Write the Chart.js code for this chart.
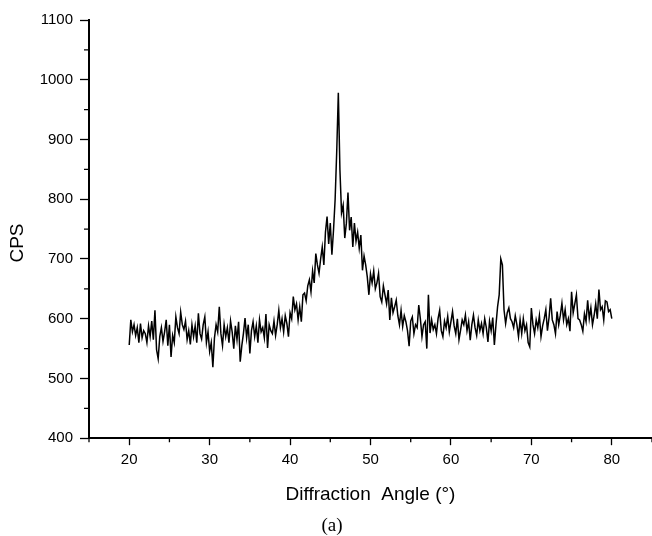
<!DOCTYPE html>
<html>
<head>
<meta charset="utf-8">
<script src="https://cdn.jsdelivr.net/npm/chart.js@4.4.1/dist/chart.umd.min.js"></script>
<style>
  html, body { margin: 0; padding: 0; background: #fff; }
</style>
</head>
<body>
<canvas id="xrdChart" width="652" height="536"></canvas>
<script>
// scan starts at 20 deg, one reading every 0.2 deg
const startAngle = 20;
const angleStep = 0.2;

// counts per second
const cps = [
    556, 598, 578, 590, 572, 585, 560, 592, 568, 580,
    575, 560, 588, 570, 596, 565, 614, 548, 533, 570,
    585, 562, 578, 598, 555, 590, 536, 572, 560, 603,
    585, 575, 611, 590, 582, 596, 565, 580, 557, 590,
    570, 588, 560, 609, 575, 566, 590, 603, 560, 578,
    545, 560, 519, 568, 590, 578, 620, 575, 555, 590,
    570, 585, 560, 596, 578, 550, 588, 565, 595, 528,
    555, 575, 601, 568, 590, 542, 580, 595, 570, 588,
    560, 598, 578, 585, 568, 608, 551, 590, 580, 575,
    596, 572, 590, 614, 585, 600, 578, 605, 592, 570,
    610, 600, 637, 615, 625, 598, 620, 595, 640, 643,
    630, 655, 665, 645, 680, 660, 709, 690, 676, 700,
    720, 690, 745, 771, 725, 760, 707, 748, 799, 880,
    978, 849, 777, 790, 735, 760, 811, 748, 770, 720,
    760, 730, 745, 718, 740, 681, 705, 690, 670, 640,
    675, 660, 680, 650, 660, 676, 637, 628, 655, 640,
    625, 648, 598, 635, 610, 620, 631, 605, 590, 614,
    587, 605, 595, 580, 554, 596, 603, 575, 590, 585,
    623, 600, 570, 590, 595, 550, 640, 576, 598, 582,
    590, 575, 600, 614, 580, 570, 596, 585, 604, 578,
    595, 612, 588, 575, 600, 565, 581, 598, 590, 606,
    580, 595, 564, 590, 606, 585, 572, 598, 580, 592,
    575, 600, 585, 561, 596, 580, 602, 556, 590, 620,
    640, 700, 690, 615, 592, 610, 618, 600, 595, 585,
    605, 590, 570, 598, 575, 600, 580, 590, 560, 553,
    618, 590, 575, 598, 585, 605, 570, 588, 600, 615,
    580, 602, 634, 598, 590, 575, 612, 590, 606, 626,
    598, 615, 590, 600, 579, 645, 610, 625, 640, 600,
    598, 590, 579, 608, 595, 631, 600, 618, 590, 605,
    625, 600, 649, 615, 620, 598, 630, 628, 612, 615,
    600
];

const xMajorTicks = [20, 30, 40, 50, 60, 70, 80];
const xMinorTicks = [15, 25, 35, 45, 55, 65, 75, 85];
const yMajorTicks = [400, 500, 600, 700, 800, 900, 1000, 1100];
const yMinorTicks = [450, 550, 650, 750, 850, 950, 1050];

const points = cps.map((v, i) => ({ x: +(startAngle + i * angleStep).toFixed(1), y: v }));

// minor ticks + the rotated y label + panel letter
const extraMarks = {
    id: 'extraMarks',
    afterDraw(chart) {
        const { ctx, chartArea, scales } = chart;
        ctx.save();
        ctx.strokeStyle = '#000';
        ctx.lineWidth = 1.3;
        ctx.beginPath();
        xMinorTicks.forEach(v => {
            const px = scales.x.getPixelForValue(v);
            ctx.moveTo(px, chartArea.bottom);
            ctx.lineTo(px, chartArea.bottom + 4);
        });
        yMinorTicks.forEach(v => {
            const py = scales.y.getPixelForValue(v);
            ctx.moveTo(chartArea.left, py);
            ctx.lineTo(chartArea.left - 5, py);
        });
        ctx.stroke();

        ctx.fillStyle = '#000';
        ctx.textAlign = 'center';
        ctx.textBaseline = 'middle';
        ctx.save();
        ctx.font = '19px "Liberation Sans"';
        ctx.translate(18, 243);
        ctx.rotate(-Math.PI / 2);
        ctx.fillText('CPS', 0, 0);
        ctx.restore();

        ctx.font = '19px "Liberation Serif"';
        ctx.fillText('(a)', 332, 526);
        ctx.restore();
    }
};

const ctx = document.getElementById('xrdChart').getContext('2d');
const xrdChart = new Chart(ctx, {
    type: 'line',
    data: {
        datasets: [{
            data: points,
            borderColor: '#000',
            borderWidth: 1.5,
            pointRadius: 0,
            tension: 0,
            fill: false
        }]
    },
    options: {
        responsive: false,
        animation: false,
        layout: { padding: { top: 20, right: 0, bottom: 26, left: 0 } },
        plugins: {
            legend: { display: false },
            tooltip: { enabled: false }
        },
        scales: {
            x: {
                type: 'linear',
                min: 15,
                max: 85,
                afterBuildTicks: scale => { scale.ticks = xMajorTicks.map(v => ({ value: v })); },
                border: { color: '#000', width: 2 },
                grid: { drawOnChartArea: false, drawTicks: true, tickLength: 7, tickColor: '#000', tickWidth: 1.3 },
                ticks: {
                    color: '#000', padding: 6, maxRotation: 0,
                    font: { family: 'Liberation Sans', size: 15 },
                    callback: v => String(v)
                },
                title: {
                    display: true,
                    text: 'Diffraction  Angle (°)',
                    color: '#000',
                    font: { family: 'Liberation Sans', size: 19 },
                    padding: { top: 8, bottom: 4 }
                }
            },
            y: {
                min: 400,
                max: 1100,
                afterBuildTicks: scale => { scale.ticks = yMajorTicks.map(v => ({ value: v })); },
                afterFit: scale => { scale.width = 89; },
                border: { color: '#000', width: 2 },
                grid: { drawOnChartArea: false, drawTicks: true, tickLength: 9, tickColor: '#000', tickWidth: 1.3 },
                ticks: {
                    color: '#000', padding: 7,
                    font: { family: 'Liberation Sans', size: 15 },
                    callback: v => String(v)
                }
            }
        }
    },
    plugins: [extraMarks]
});
</script>
</body>
</html>
